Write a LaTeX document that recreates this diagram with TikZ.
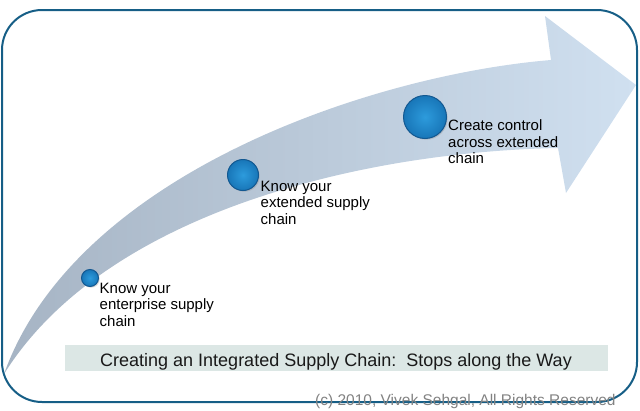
\documentclass[tikz,border=0pt]{standalone}
\usepackage{fontspec}
\setmainfont{Liberation Sans}
\usetikzlibrary{shadows}
\definecolor{border}{RGB}{22,94,134}
\definecolor{bandA}{RGB}{166,180,196}
\definecolor{bandB}{RGB}{190,206,222}
\definecolor{bandC}{RGB}{208,224,240}
\definecolor{barfill}{RGB}{220,231,229}
\definecolor{ballin}{RGB}{45,155,220}
\definecolor{ballout}{RGB}{24,118,184}
\definecolor{ballrim}{RGB}{18,88,145}
\definecolor{copytext}{RGB}{130,130,130}
\begin{document}
\begin{tikzpicture}[x=1pt,y=-1pt,
  sphere/.style={circle, inner sep=0pt, shade, inner color=ballin, outer color=ballout,
    draw=ballrim, line width=1pt,
    drop shadow={shadow xshift=1.2pt, shadow yshift=-1.2pt, opacity=0.3}},
  stoplabel/.style={anchor=north west, inner sep=0pt, align=left,
    font=\fontsize{15}{16.5}\selectfont, text=black}]
\useasboundingbox (0,0) rectangle (640,410);
% curved arrow
\shade[left color=bandA, middle color=bandB, right color=bandC]
  (4,374) .. controls (75,175) and (370,75) .. (551,60)
  -- (545,16) -- (636,85) -- (566,193) -- (558,148)
  .. controls (358,152) and (104,214) .. (4,374)
  -- cycle;
% stops
\node[sphere, minimum size=17pt] (s1) at (90,278) {};
\node[sphere, minimum size=31pt] (s2) at (243,175) {};
\node[sphere, minimum size=43pt] (s3) at (425,117) {};
\node[stoplabel] (t1) at (99.5,282.5) {Know your\\enterprise supply\\chain};
\node[stoplabel] (t2) at (260.5,180.5) {Know your\\extended supply\\chain};
\node[stoplabel] (t3) at (448,119.5) {Create control\\across extended\\chain};
% title bar
\node[fill=barfill, minimum width=543pt, minimum height=26pt, inner sep=0pt] (bar) at (336.5,358) {};
\node[anchor=base, inner sep=0pt, font=\fontsize{18}{20}\selectfont, text={rgb,255:red,25;green,25;blue,25}] (title) at (336,366) {Creating an Integrated Supply Chain:\ \ Stops along the Way};
% frame
\draw[border, line width=2pt, rounded corners=40pt] (2,10) rectangle (637,402);
\node[anchor=base west, inner sep=0pt, font=\fontsize{15.5}{17}\selectfont, text=copytext] (copy) at (315,405.5) {(c) 2010, Vivek Sehgal, All Rights Reserved};
\end{tikzpicture}
\end{document}
